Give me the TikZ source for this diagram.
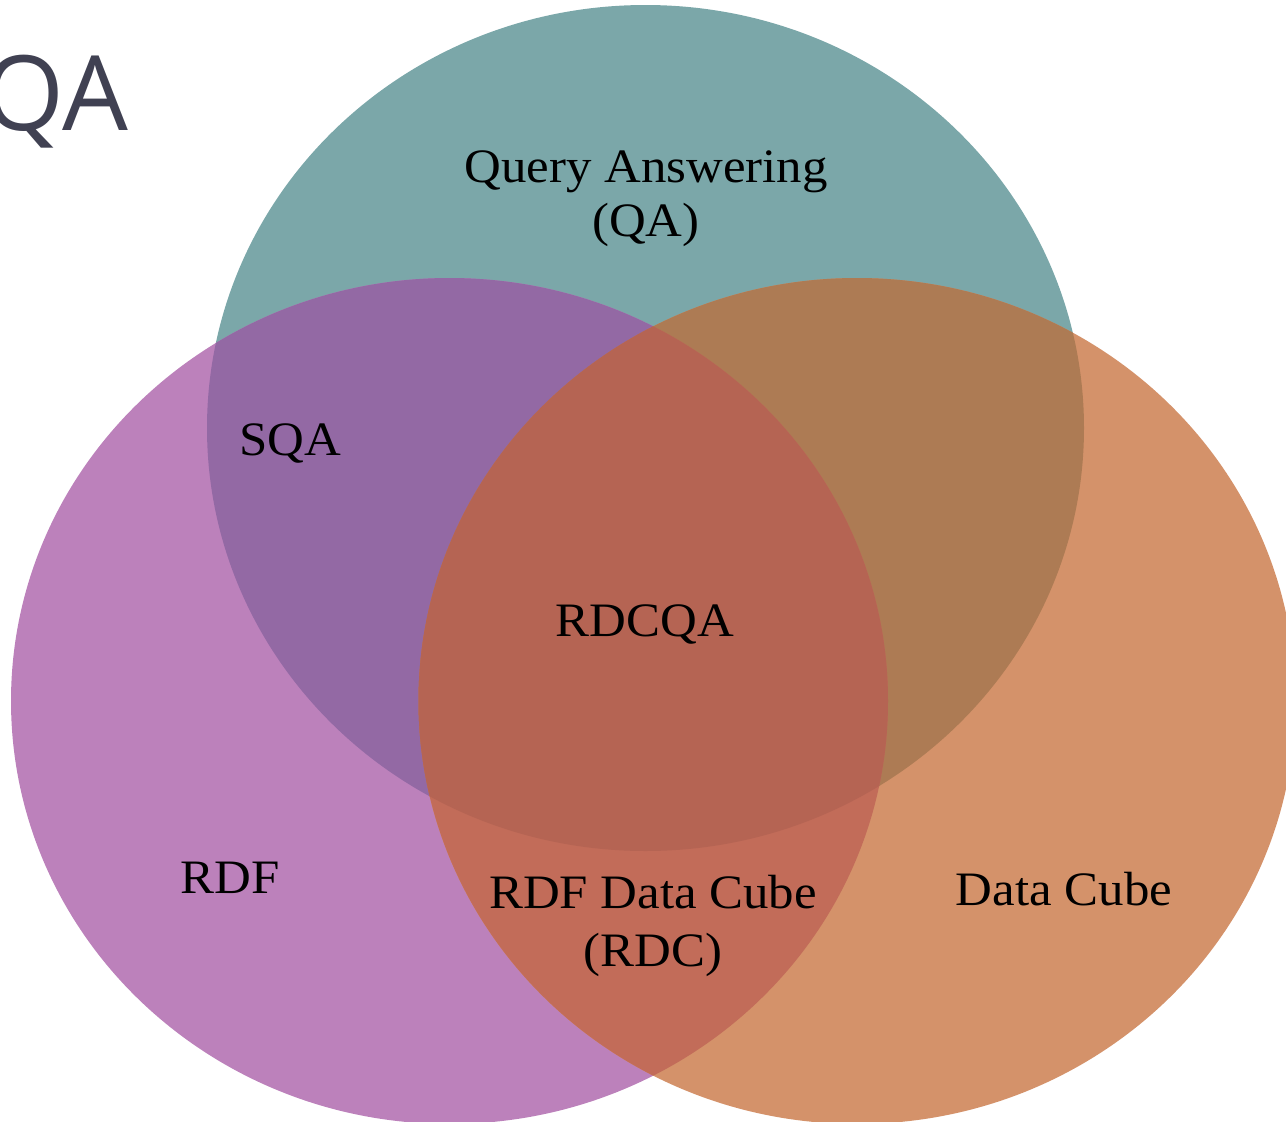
\documentclass[tikz,border=0pt]{standalone}
\usepackage{fontspec}
\setmainfont[FakeStretch=1.06]{Liberation Serif}
\newfontfamily\titlefont{Open Sans}
\definecolor{cteal}{HTML}{7BA7A9}
\definecolor{cpurple}{HTML}{BC81BB}
\definecolor{corange}{HTML}{D4926A}
\definecolor{ctp}{HTML}{9369A4}
\definecolor{cto}{HTML}{AD7B54}
\definecolor{cpo}{HTML}{C26C59}
\definecolor{call}{HTML}{B56453}
\definecolor{ctitle}{HTML}{404152}
\begin{document}
\begin{tikzpicture}[x=1pt,y=-1pt,
  lbl/.style={anchor=base,inner sep=0pt,font=\fontsize{48}{56}\selectfont,text=black}]
\useasboundingbox (0,0) rectangle (1286,1122);
\clip (0,0) rectangle (1286,1122);
\def\qa{(645.5,428) ellipse [x radius=438.5pt, y radius=423pt]}
\def\rdf{(449.5,701) ellipse [x radius=438.5pt, y radius=423pt]}
\def\dc{(857,701) ellipse [x radius=438.5pt, y radius=423pt]}
\fill[cteal] \qa;
\fill[cpurple] \rdf;
\fill[corange] \dc;
\begin{scope}
  \clip \qa;
  \fill[ctp] \rdf;
  \fill[cto] \dc;
\end{scope}
\begin{scope}
  \clip \rdf;
  \fill[cpo] \dc;
\end{scope}
\begin{scope}
  \clip \qa;
  \clip \rdf;
  \fill[call] \dc;
\end{scope}
\node[anchor=base east,inner sep=0pt,text=ctitle,font=\titlefont\fontsize{104}{120}\selectfont] (title) at (128,130) {QA};
\node[lbl] (qa1) at (646,182) {Query Answering};
\node[lbl] (qa2) at (646,236) {(QA)};
\node[lbl] (sqa) at (290,455) {SQA};
\node[lbl] (rdcqa) at (645,636) {RDCQA};
\node[lbl] (rdf) at (230,893) {RDF};
\node[lbl] (dcube) at (1064,905) {Data Cube};
\node[lbl] (rdc1) at (653,908) {RDF Data Cube};
\node[lbl] (rdc2) at (653,966) {(RDC)};
\end{tikzpicture}
\end{document}
